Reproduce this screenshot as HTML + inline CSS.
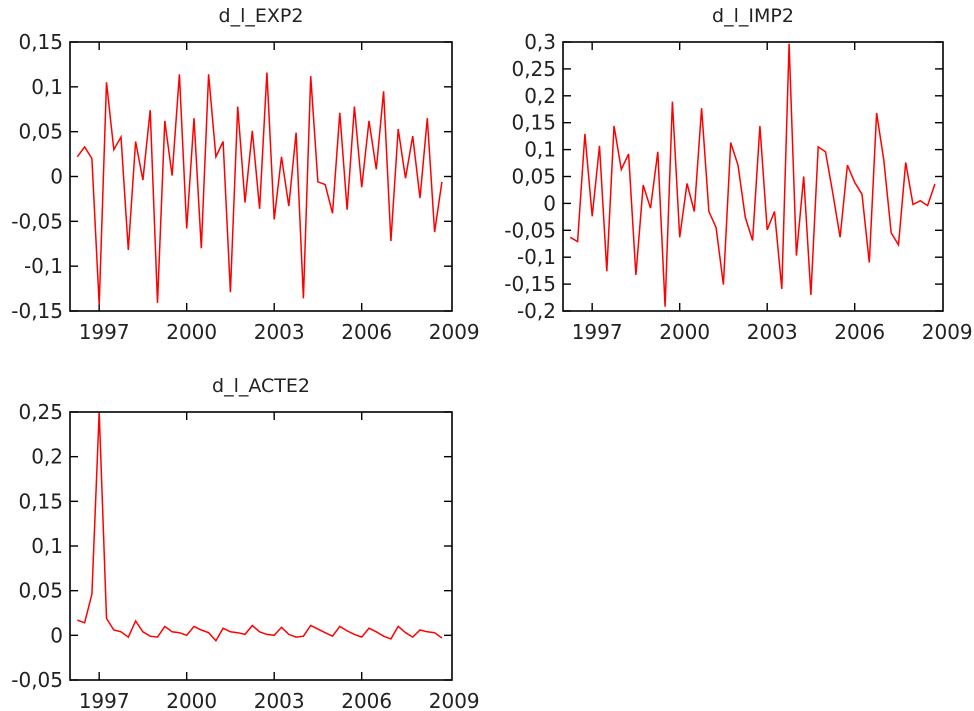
<!DOCTYPE html>
<html><head><meta charset="utf-8"><style>
body{margin:0;background:#fff;width:974px;height:711px;overflow:hidden}
svg{display:block}
text{font-family:"DejaVu Sans","Liberation Sans",sans-serif;fill:#222}
</style></head><body>
<svg id="c" width="974" height="711"></svg>
<script>
const years=[1997,2000,2003,2006,2009];
const startYear=1996.25, step=0.25;
const expValues=[0.022,0.033,0.020,-0.143,0.105,0.030,0.044,-0.082,0.039,-0.004,0.074,-0.141,0.062,0.001,0.114,-0.058,0.065,-0.080,0.114,0.022,0.039,-0.129,0.078,-0.029,0.051,-0.036,0.116,-0.048,0.022,-0.033,0.049,-0.136,0.112,-0.006,-0.009,-0.041,0.071,-0.037,0.078,-0.012,0.062,0.008,0.095,-0.072,0.053,-0.002,0.045,-0.024,0.065,-0.062,-0.006];
const impValues=[-0.063,-0.071,0.129,-0.024,0.107,-0.126,0.144,0.063,0.092,-0.133,0.034,-0.009,0.096,-0.192,0.189,-0.063,0.037,-0.015,0.177,-0.015,-0.045,-0.151,0.113,0.071,-0.026,-0.069,0.144,-0.049,-0.015,-0.159,0.297,-0.097,0.050,-0.170,0.105,0.096,0.019,-0.063,0.071,0.039,0.017,-0.110,0.168,0.079,-0.055,-0.077,0.076,-0.002,0.005,-0.004,0.036];
const acteValues=[0.017,0.014,0.046,0.250,0.019,0.006,0.004,-0.002,0.016,0.004,-0.001,-0.002,0.010,0.004,0.003,0.000,0.010,0.006,0.003,-0.006,0.008,0.004,0.003,0.001,0.011,0.004,0.001,0.000,0.009,0.001,-0.002,-0.001,0.011,0.007,0.003,-0.001,0.010,0.005,0.001,-0.002,0.008,0.004,-0.001,-0.004,0.010,0.003,-0.002,0.006,0.004,0.003,-0.003];
const expTicks=[0.15,0.1,0.05,0,-0.05,-0.1,-0.15];
const impTicks=[0.3,0.25,0.2,0.15,0.1,0.05,0,-0.05,-0.1,-0.15,-0.2];
const acteTicks=[0.25,0.2,0.15,0.1,0.05,0,-0.05];

const NS='http://www.w3.org/2000/svg';
const svg=document.getElementById('c');
function mk(tag,attrs,parent){const e=document.createElementNS(NS,tag);for(const k in attrs)e.setAttribute(k,attrs[k]);(parent||svg).appendChild(e);return e;}
function fmt(v){return String(Math.round(v*100)/100).replace('.',',');}

function panel(name,title,L,R,T,B,values,ticks){
  const g=mk('g',{});
  
  
  const ymax=ticks[0], ymin=ticks[ticks.length-1];
  const pxPerYear=29.17;
  const xs=v=>L+(v-1996)*pxPerYear;
  const ys=v=>T+(ymax-v)/(ymax-ymin)*(B-T);
  const t=mk('text',{x:(L+R)/2,y:T-20,'text-anchor':'middle','font-size':19},g);
  t.textContent=title;
  
  
  ticks.forEach(v=>{
    const y=ys(v);
    mk('line',{x1:L,x2:L+8,y1:y,y2:y,stroke:'#000','stroke-width':1.4},g);
    mk('line',{x1:R-8,x2:R,y1:y,y2:y,stroke:'#000','stroke-width':1.4},g);
    const lb=mk('text',{x:L-7,y:y+7,'text-anchor':'end','font-size':20},g);
    lb.textContent=fmt(v);
    
    
  });
  years.forEach(yr=>{
    const x=xs(yr);
    if(yr<2009){
      mk('line',{x1:x,x2:x,y1:B,y2:B-8,stroke:'#000','stroke-width':1.4},g);
      mk('line',{x1:x,x2:x,y1:T,y2:T+8,stroke:'#000','stroke-width':1.4},g);
    }
    const lb=mk('text',{x:x+5,y:B+28,'text-anchor':'middle','font-size':20},g);
    lb.textContent=yr;
    
    
  });
  const pts=values.map((v,i)=>xs(startYear+i*step).toFixed(1)+','+ys(v).toFixed(1)).join(' ');
  const pl=mk('polyline',{points:pts,fill:'none',stroke:'#f00','stroke-width':1.5},g);
  
  
  const fr=mk('rect',{x:L,y:T,width:R-L,height:B-T,fill:'none',stroke:'#000','stroke-width':1.6},g);
  
  
}
panel('exp','d_l_EXP2',70,452,42,311,expValues,expTicks);
panel('imp','d_l_IMP2',563,943,42,311,impValues,impTicks);
panel('acte','d_l_ACTE2',70,452,412,680,acteValues,acteTicks);
</script>
</body></html>
